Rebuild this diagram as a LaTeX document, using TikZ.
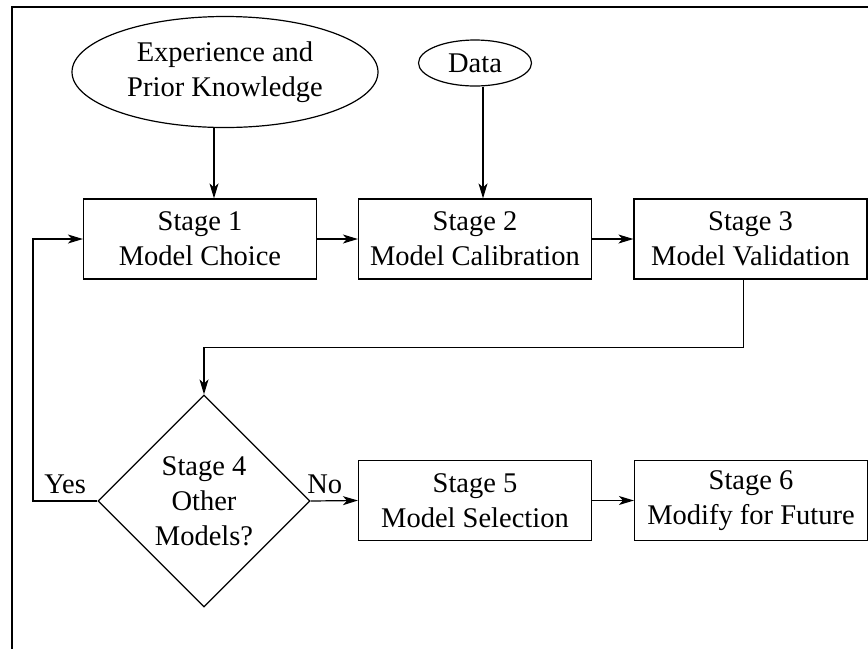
\documentclass[tikz,border=0pt]{standalone}
\usepackage{fontspec}
\setmainfont{Liberation Serif}
\usetikzlibrary{shapes.geometric}
\usetikzlibrary{arrows.meta}

\begin{document}
\begin{tikzpicture}[x=1pt,y=-1pt,line width=1.2pt,
  >={Stealth[length=15pt,width=9pt,inset=4pt]},
  every node/.style={font=\fontsize{28.5}{35}\selectfont},
  stagebox/.style={draw,rectangle,minimum width=233pt,minimum height=80pt,align=center},
  source/.style={draw,ellipse,inner sep=0pt,align=center},
  answer/.style={above,inner sep=1pt,text depth=6pt}]
\useasboundingbox (0,0) rectangle (868,649);
\draw (868,7)--(12,7)--(12,649);
\node[source,minimum width=306pt,minimum height=111pt] (exp) at (225,72) {Experience and\\Prior Knowledge};
\node[source,minimum width=113pt,minimum height=46pt] (data) at (475,63) {Data};
\node[stagebox] (s1) at (200,239) {Stage 1\\Model Choice};
\node[stagebox] (s2) at (475,239) {Stage 2\\Model Calibration};
\node[stagebox] (s3) at (750.5,239) {Stage 3\\Model Validation};
\node[draw,diamond,minimum width=212pt,minimum height=212pt,inner sep=0pt,align=center] (s4) at (204,501) {Stage 4\\Other\\Models?};
\node[stagebox] (s5) at (475,500.5) {Stage 5\\Model Selection};
\node[stagebox] (s6) at (751,500.5) {Stage 6\\Modify for Future};
\draw[->] ([xshift=-11pt]exp.south) -- ([xshift=14pt]s1.north);
\draw[->] ([xshift=8pt]data.south) -- ([xshift=8pt]s2.north);
\draw[->] (s1.east) -- (s2.west);
\draw[->] (s2.east) -- (s3.west);
%back round to stage 4
\draw[->] ([xshift=-7pt]s3.south) |- ([yshift=47pt]s4.north) -- (s4.north);
\draw[->] (s4.west) -- (33,501) node[midway,answer]{Yes} |- (s1.west);
\draw[->] (s4.east) -- (s5.west) node[pos=.3,answer]{No};
\draw[->] (s5.east) -- (s6.west);
\end{tikzpicture}
\end{document}
